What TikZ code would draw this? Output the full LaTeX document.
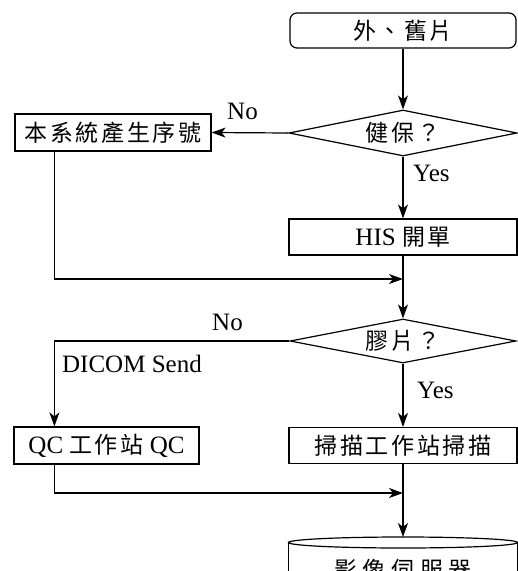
\documentclass[tikz,border=0pt]{standalone}
\usepackage{fontspec}
\setmainfont{Liberation Serif}
\newfontfamily\cjk[LetterSpace=11,Scale=0.92]{Noto Sans CJK TC}
\newfontfamily\cjkwide[LetterSpace=24,Scale=0.92]{Noto Sans CJK TC}
\usetikzlibrary{shapes.geometric,arrows.meta}
\newcommand\boxfont{\fontsize{25}{25}\selectfont}
\newcommand\lblfont{\fontsize{25}{25}\selectfont}
\tikzset{
  box/.style={draw, line width=1.2pt, inner sep=0pt, minimum height=36pt, font=\boxfont},
  decision/.style={diamond, draw, line width=1.2pt, inner sep=0pt, shape aspect=5, font=\boxfont},
  lbl/.style={anchor=base west, inner sep=0pt, font=\lblfont},
  arr/.style={-{Stealth[length=14pt,width=10pt,inset=4pt]}, line width=1.2pt},
}
\begin{document}
\begin{tikzpicture}[x=1pt,y=-1pt]
\useasboundingbox (0,0) rectangle (518,571);
\clip (0,0) rectangle (518,571);

% process boxes and decisions
\node[box, rounded corners=7pt, minimum width=226pt, minimum height=35pt] (start) at (403,30.5) {\cjk 外、舊片};
\node[decision, minimum width=228pt, minimum height=46pt] (d1) at (403,133) {\cjk 健保？};
\node[box, minimum width=196pt, minimum height=37pt] (n1) at (113,132.5) {\cjk 本系統產生序號};
\node[box, minimum width=228pt] (his) at (403,237) {HIS {\cjk 開單}};
\node[decision, minimum width=226pt, minimum height=44pt] (d2) at (403,341) {\cjk 膠片？};
\node[box, minimum width=185pt, minimum height=37pt] (qc) at (106.5,445.5) {QC {\cjk 工作站} QC};
\node[box, minimum width=228pt] (scan) at (403,445.5) {\cjk 掃描工作站掃描};

% image server (database cylinder)
\coordinate (srvtop) at (403,537);
\draw[line width=1.2pt] (288.5,542.5) -- (288.5,620);
\draw[line width=1.2pt] (517.5,542.5) -- (517.5,620);
\draw[line width=1.2pt] (403,542.5) ellipse [x radius=114.5, y radius=5.5];
\node[font=\boxfont, inner sep=0pt] (srv) at (403,570) {\cjkwide 影像伺服器};

% branch labels
\node[lbl] (no1) at (227,119) {No};
\node[lbl] (yes1) at (413,181) {Yes};
\node[lbl] (no2) at (212,330) {No};
\node[lbl] (dicom) at (62,372) {DICOM Send};
\node[lbl] (yes2) at (417,398) {Yes};

% connectors
\coordinate (m1) at (403,279);
\coordinate (m2) at (403,493);
\draw[arr] (start.south) -- (d1.north);
\draw[arr] (d1.west) -- (n1.east);
\draw[arr] (d1.south) -- (his.north);
\draw[arr] ([xshift=40pt]n1.south west) |- (m1);
\draw[arr] (his.south) -- (d2.north);
\draw[arr] (d2.west) -| ([xshift=41pt]qc.north west);
\draw[arr] ([xshift=41pt]qc.south west) |- (m2);
\draw[arr] (d2.south) -- (scan.north);
\draw[arr] (scan.south) -- (srvtop);
\end{tikzpicture}
\end{document}
